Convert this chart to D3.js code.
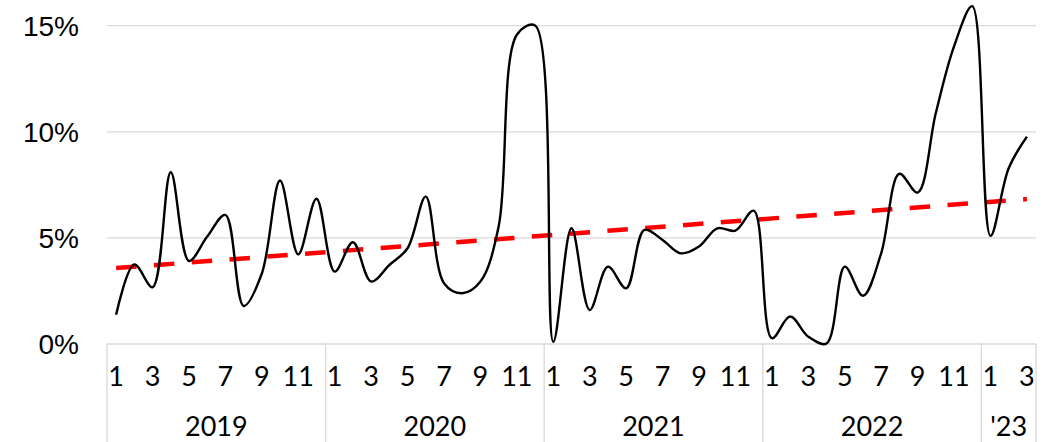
<!DOCTYPE html>
<html>
<head>
<meta charset="utf-8">
<script src="https://cdn.jsdelivr.net/npm/d3@7"></script>
<style>
    html, body { margin: 0; padding: 0; background: #fff; }
    svg { display: block; }
</style>
</head>
<body>
<svg id="chart" width="1045" height="442"></svg>
<script>
// data (percent)
const years = ["2019", "2020", "2021", "2022", "'23"];
const yearMonths = [12, 12, 12, 12, 3];
const values = [
    1.35, 3.73, 2.65, 8.07, 3.89, 5.04, 6.06, 1.77, 3.30, 7.68, 4.20, 6.82,
    3.39, 4.77, 2.92, 3.70, 4.49, 6.92, 2.84, 2.37, 2.92, 5.51, 14.55, 14.99,
    0.08, 5.43, 1.58, 3.62, 2.60, 5.35, 4.88, 4.25, 4.57, 5.43, 5.32, 6.26,
    0.25, 1.27, 0.32, 0.00, 3.62, 2.25, 4.25, 8.00, 7.11, 10.86, 14.00, 15.90,
    5.07, 8.26, 9.75
];
const yTicks = [0, 5, 10, 15];

let init = {
    draw: function () {
        const svg = d3.select("#chart");
        const left = 107, right = 1036, top = 4, bottom = 343.5;

        // month numbers 1..12 for every point
        const months = [];
        yearMonths.forEach(n => { for (let m = 1; m <= n; m++) months.push(m); });

        const x = d3.scaleBand().domain(d3.range(values.length)).range([left, right]).padding(0);
        const y = d3.scaleLinear().domain([0, 16]).range([bottom, top]);
        const cx = i => x(i) + x.bandwidth() / 2;

        // y axis with gridlines
        const yAxis = svg.append("g")
            .attr("transform", `translate(${left},0)`)
            .call(d3.axisLeft(y).tickValues(yTicks).tickSize(-(right - left)).tickPadding(28)
                .tickFormat(d => d + "%"));
        yAxis.select(".domain").remove();
        yAxis.selectAll(".tick line").attr("stroke", "#d9d9d9").attr("stroke-width", 1.3);
        yAxis.selectAll(".tick text")
            .attr("dy", "0.36em")
            .style("font-family", "'Liberation Sans', Arial, sans-serif")
            .style("font-size", "28px").attr("fill", "#000");

        // year separators under the axis
        const bounds = [0];
        yearMonths.forEach((n, k) => bounds.push(bounds[k] + n));
        const bx = b => b < values.length ? x(b) : right;
        svg.append("g").selectAll("line").data(bounds).enter().append("line")
            .attr("x1", bx).attr("x2", bx)
            .attr("y1", bottom).attr("y2", 442)
            .attr("stroke", "#d9d9d9").attr("stroke-width", 1.3);

        // month labels (odd months)
        const lab = "Lato, 'Open Sans', sans-serif";
        svg.append("g").selectAll("text")
            .data(d3.range(values.length).filter(i => months[i] % 2 === 1))
            .enter().append("text")
            .attr("x", cx).attr("y", 386)
            .attr("text-anchor", "middle")
            .style("font-family", lab).style("font-size", "27px")
            .text(i => months[i]);

        // year labels
        svg.append("g").selectAll("text").data(years).enter().append("text")
            .attr("x", (d, k) => (bx(bounds[k]) + bx(bounds[k + 1])) / 2)
            .attr("y", 436)
            .attr("text-anchor", "middle")
            .style("font-family", lab).style("font-size", "27px")
            .text(d => d);

        // linear trend (least squares over the series)
        const n = values.length;
        const mx = d3.mean(d3.range(n)), my = d3.mean(values);
        const slope = d3.sum(values, (v, i) => (i - mx) * (v - my)) / d3.sum(d3.range(n), i => (i - mx) * (i - mx));
        const icpt = my - slope * mx;
        svg.append("line")
            .attr("x1", cx(0)).attr("y1", y(icpt))
            .attr("x2", cx(n - 1)).attr("y2", y(icpt + slope * (n - 1)))
            .attr("stroke", "#ff0000").attr("stroke-width", 4.5)
            .attr("stroke-dasharray", "20.5,17.4");

        // smoothed series line
        const line = d3.line().x((d, i) => cx(i)).y(d => y(d)).curve(d3.curveCatmullRom.alpha(0.5));
        svg.append("path").datum(values)
            .attr("d", line)
            .attr("fill", "none").attr("stroke", "#000").attr("stroke-width", 2.4);
    }
};

window.onload = function () {
    init.draw();
};
</script>
</body>
</html>
